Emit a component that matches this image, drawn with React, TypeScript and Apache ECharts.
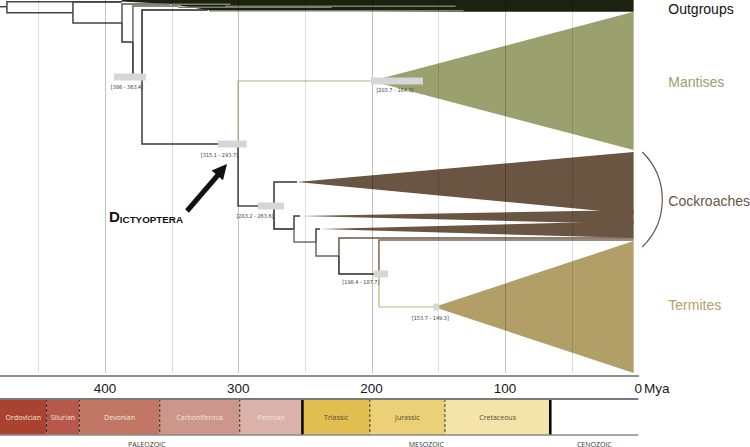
import React, { useEffect, useRef } from 'react';
import * as echarts from 'echarts';

// ---------------- data ----------------
const AXIS_MAX_AGE = 478.7; // Mya at the left edge of the plot
const TIP_AGE = 3.5; // where the collapsed clades end
const ROOT_STEM_AGE = 478.7;
const gridAges = [450, 400, 350, 300, 250, 200, 150, 100, 50];

// tree nodes (age in Mya, vertical lane, parent index)
const nodeNames = ['root', 'og1', 'n1', 'og2', 'n2', 'og3', 'n3', 'og4', 'n4', 'og5', 'Dictyoptera', 'Mantodea', 'Blattodea', 'cock1', 'b2', 'cock2', 'b3', 'cock3', 'b4', 'cock4', 'b5', 'Cryptocercus', 'Termitoidae'];
const nodeAges = [473.5, 387.5, 424, 387.5, 387.2, 351, 379, 345, 372.2, 323, 300.2, 200, 273.2, 256, 258.2, 253.7, 241.7, 238.7, 224.5, 3.5, 194.5, 3.5, 153.2];
const nodeLanes = [6.7, 1.7, 12.7, 2, 23, 4, 42, 6, 77, 10, 144, 81, 206, 182, 229, 216, 242, 229, 256, 238, 274, 240, 307];
const nodeParents = [-1, 0, 0, 2, 2, 4, 4, 6, 6, 8, 8, 10, 10, 12, 12, 14, 14, 16, 16, 18, 18, 20, 20];

// outgroup band outline and lines
const outgroupBandAges = [387.5, 3.5, 3.5, 131, 323, 351, 387.5];
const outgroupBandLanes = [0, 0, 11.7, 11.7, 10, 4, 1.5];
const outgroupLineLanes = [4.2, 7.2, 6.2, 10.8];
const outgroupLineFrom = [350, 345, 310, 322];
const outgroupLineTo = [306, 230, 137, 131];

// collapsed clades
const cladeNames = ['Mantises', 'Cockroaches A', 'Cockroaches B', 'Cockroaches C', 'Termites'];
const cladeApexNodes = [11, 13, 15, 17, 22];
const cladeTopLanes = [11.7, 152, 210, 221, 241];
const cladeBottomLanes = [150, 214, 224, 238, 373];

const groupLabels = ['Outgroups', 'Mantises', 'Cockroaches', 'Termites'];
const groupLabelLanes = [9, 82, 201, 305];
const bracketLanes = [152, 247];

// node age confidence intervals
const ciNodes = [8, 10, 11, 12, 20, 22];
const ciOld = [393.2, 315.1, 200.5, 285.2, 198.4, 153.7];
const ciYoung = [369.2, 293.7, 161.5, 265.7, 187.7, 149.3];
const ciLabels = ['[386 - 363.4]', '[315.1 - 293.7]', '[203.7 - 164.3]', '[283.2 - 263.6]', '[198.4 - 187.7]', '[153.7 - 149.3]'];

// geological time scale
const periodNames = ['Ordovician', 'Silurian', 'Devonian', 'Carboniferous', 'Permian', 'Triassic', 'Jurassic', 'Cretaceous', ''];
const periodStart = [485.4, 443.8, 419.2, 358.9, 298.9, 251.9, 201.3, 145, 66];
const periodEnd = [443.8, 419.2, 358.9, 298.9, 251.9, 201.3, 145, 66, 0];
const eraNames = ['PALEOZOIC', 'MESOZOIC', 'CENOZOIC'];
const eraStart = [485.4, 251.9, 66];
const eraEnd = [251.9, 66, 0];

// ---------------- styles ----------------
const FONT = '"Liberation Sans", Arial, sans-serif';
const NARROW = '"Liberation Sans Narrow", "DejaVu Sans Condensed", "Liberation Sans", sans-serif';
const OUTGROUP_COLOR = '#1b2210';
const edgeColors = ['#444', '#444', '#444', '#444', '#444', '#555', '#333', '#666', '#222', '#222', '#3a3a3a', '#b0b288', '#4a4a4a', '#3d3229', '#222', '#4a3b2e', '#6f6f6f', '#4a3b2e', '#666', '#6a5646', '#2a2a2a', '#7a6452', '#c9b27c'];
const edgeWidths = [1.5, 1.5, 1.5, 1.5, 1.5, 1.5, 1.5, 1.5, 1.5, 1.5, 1.5, 1, 1.5, 1.5, 1.5, 1.5, 1.5, 1.5, 1.5, 1.5, 1.5, 1.5, 1.2];
const cladeColors = ['#9ba16e', '#6a5442', '#6a5442', '#6a5442', '#b29f68'];
const groupLabelColors = ['#111', '#9ba16e', '#6a5442', '#b29f68'];
const ciLabelDx = [-3, -13, -2, -16, -20, -6];
const ciLabelDy = [10, 11, 9, 10, 8, 11];
const periodColors = ['#a9432f', '#b6584a', '#c27664', '#cd968a', '#dbb2aa', '#e2bd50', '#ebd078', '#f4e4aa', '#ffffff'];
const periodTextColors = ['#f7e3dc', '#f7e3dc', '#f7e3dc', '#f7e3dc', '#f7e3dc', '#5a4828', '#5a4828', '#5a4828', '#5a4828'];

function buildOption(): any {
  return {
    animation: false,
    textStyle: { fontFamily: FONT },
    grid: [
      { left: 0, top: 0, width: 638.3, height: 376 },
      { left: 0, top: 399, width: 638.3, height: 36 },
    ],
    xAxis: [
      {
        type: 'value', gridIndex: 0, min: 0, max: AXIS_MAX_AGE, inverse: true, interval: 100,
        axisLine: { show: true, onZero: false, lineStyle: { color: '#8f8f8f', width: 2 } },
        axisTick: { show: false },
        splitLine: { show: false },
        axisLabel: {
          fontSize: 13.5, color: '#1a1a1a', margin: 5, fontFamily: FONT, showMaxLabel: false,
          formatter: (v: number) => (v % 100 === 0 ? String(v) : ''),
        },
      },
      { type: 'value', gridIndex: 1, min: 0, max: AXIS_MAX_AGE, inverse: true, show: false },
    ],
    yAxis: [
      { type: 'value', gridIndex: 0, min: 0, max: 376, inverse: true, show: false },
      { type: 'value', gridIndex: 1, min: 0, max: 1, show: false },
    ],
    series: [
      // outgroup dark band
      {
        type: 'custom', xAxisIndex: 0, yAxisIndex: 0, z: 1, silent: true,
        data: [[outgroupBandAges[0], outgroupBandLanes[0]]],
        renderItem: (_p: any, api: any) => ({
          type: 'polygon',
          shape: { points: outgroupBandAges.map((a, k) => api.coord([a, outgroupBandLanes[k]])) },
          style: { fill: OUTGROUP_COLOR },
        }),
      },
      // collapsed clades
      {
        type: 'custom', xAxisIndex: 0, yAxisIndex: 0, z: 2, silent: true,
        data: cladeApexNodes.map((n) => [nodeAges[n], nodeLanes[n]]),
        renderItem: (p: any, api: any) => {
          const i = p.dataIndex;
          const n = cladeApexNodes[i];
          return {
            type: 'polygon',
            shape: {
              points: [
                api.coord([nodeAges[n], nodeLanes[n]]),
                api.coord([TIP_AGE, cladeTopLanes[i]]),
                api.coord([TIP_AGE, cladeBottomLanes[i]]),
              ],
            },
            style: { fill: cladeColors[i] },
          };
        },
      },
      // tree edges
      {
        type: 'custom', xAxisIndex: 0, yAxisIndex: 0, z: 3, silent: true,
        data: nodeAges.map((a, i) => [a, nodeLanes[i]]),
        renderItem: (p: any, api: any) => {
          const i = p.dataIndex;
          const par = nodeParents[i];
          const pAge = par >= 0 ? nodeAges[par] : ROOT_STEM_AGE;
          const pLane = par >= 0 ? nodeLanes[par] : nodeLanes[i];
          const a = api.coord([pAge, pLane]);
          const b = api.coord([pAge, nodeLanes[i]]);
          const c = api.coord([nodeAges[i], nodeLanes[i]]);
          return {
            type: 'polyline',
            shape: { points: [a, b, c] },
            style: { stroke: edgeColors[i], lineWidth: edgeWidths[i], fill: null },
          };
        },
      },
      // outgroup grey lines
      {
        type: 'custom', xAxisIndex: 0, yAxisIndex: 0, z: 3, silent: true,
        data: outgroupLineLanes.map((l, k) => [outgroupLineFrom[k], l]),
        renderItem: (p: any, api: any) => {
          const k = p.dataIndex;
          const a = api.coord([outgroupLineFrom[k], outgroupLineLanes[k]]);
          const b = api.coord([outgroupLineTo[k], outgroupLineLanes[k]]);
          return { type: 'line', shape: { x1: a[0], y1: a[1], x2: b[0], y2: b[1] }, style: { stroke: '#7b7f6e', lineWidth: 1.5 } };
        },
      },
      // grid lines
      {
        type: 'custom', xAxisIndex: 0, yAxisIndex: 0, z: 4, silent: true,
        data: gridAges.map((a) => [a, 0]),
        renderItem: (p: any, api: any) => {
          const a = gridAges[p.dataIndex];
          const p0 = api.coord([a, 0]);
          const p1 = api.coord([a, 373]);
          const x = Math.round(p0[0]) + 0.5;
          return {
            type: 'line',
            shape: { x1: x, y1: p0[1], x2: x, y2: p1[1] },
            style: { stroke: a % 100 === 0 ? 'rgba(0,0,0,0.24)' : 'rgba(0,0,0,0.13)', lineWidth: 1 },
          };
        },
      },
      // confidence interval bars
      {
        type: 'custom', xAxisIndex: 0, yAxisIndex: 0, z: 5, silent: true,
        data: ciNodes.map((n, k) => [(ciOld[k] + ciYoung[k]) / 2, nodeLanes[n]]),
        renderItem: (p: any, api: any) => {
          const k = p.dataIndex;
          const lane = nodeLanes[ciNodes[k]];
          const a = api.coord([ciOld[k], lane]);
          const b = api.coord([ciYoung[k], lane]);
          const cx = (a[0] + b[0]) / 2;
          return {
            type: 'group',
            children: [
              { type: 'rect', shape: { x: a[0], y: a[1] - 3.5, width: b[0] - a[0], height: 7 }, style: { fill: '#d6d6d6' } },
              {
                type: 'text',
                style: {
                  text: ciLabels[k], x: cx + ciLabelDx[k], y: a[1] + ciLabelDy[k],
                  align: 'center', verticalAlign: 'middle', fontSize: 5.5, fontFamily: NARROW, fill: '#3a3a3a',
                },
              },
            ],
          };
        },
      },
      // group labels
      {
        type: 'custom', xAxisIndex: 0, yAxisIndex: 0, z: 5, silent: true,
        data: groupLabels.map((_g, k) => [0, groupLabelLanes[k]]),
        renderItem: (p: any, api: any) => {
          const k = p.dataIndex;
          const pt = api.coord([0, groupLabelLanes[k]]);
          return {
            type: 'text',
            style: {
              text: groupLabels[k], x: pt[0] + 30, y: pt[1], align: 'left', verticalAlign: 'middle',
              fontSize: 14, fontFamily: FONT, fill: groupLabelColors[k],
            },
          };
        },
      },
      // cockroach bracket
      {
        type: 'custom', xAxisIndex: 0, yAxisIndex: 0, z: 5, silent: true,
        data: [[0, bracketLanes[0]]],
        renderItem: (_p: any, api: any) => {
          const t = api.coord([0, bracketLanes[0]]);
          const b = api.coord([0, bracketLanes[1]]);
          const x0 = t[0] + 4;
          const s = 20;
          const c = b[1] - t[1];
          const r = (c * c / 4 + s * s) / (2 * s);
          const ha = Math.asin(c / 2 / r);
          return {
            type: 'arc',
            shape: { cx: x0 + s - r, cy: (t[1] + b[1]) / 2, r, startAngle: -ha, endAngle: ha, clockwise: true },
            style: { stroke: '#6a5442', lineWidth: 1.2, fill: null },
          };
        },
      },
      // geological periods
      {
        type: 'custom', xAxisIndex: 1, yAxisIndex: 1, z: 2, silent: true, clip: true,
        data: periodNames.map((_n, k) => [periodStart[k], 0]),
        renderItem: (p: any, api: any) => {
          const k = p.dataIndex;
          const a = api.coord([periodStart[k], 1]);
          const b = api.coord([periodEnd[k], 0]);
          const left = Math.max(a[0], p.coordSys.x);
          const children: any[] = [
            { type: 'rect', shape: { x: a[0], y: a[1], width: b[0] - a[0], height: b[1] - a[1] }, style: { fill: periodColors[k] } },
          ];
          if (periodNames[k]) {
            children.push({
              type: 'text',
              style: {
                text: periodNames[k], x: (left + b[0]) / 2, y: (a[1] + b[1]) / 2, align: 'center', verticalAlign: 'middle',
                fontSize: 7, fontFamily: '"Open Sans", sans-serif', fill: periodTextColors[k],
              },
            });
          }
          if (k > 0) {
            const eraBoundary = eraStart.indexOf(periodStart[k]) >= 0;
            children.push({
              type: 'line',
              shape: { x1: a[0], y1: a[1], x2: a[0], y2: b[1] },
              style: eraBoundary ? { stroke: '#000', lineWidth: 2.5 } : { stroke: '#222', lineWidth: 0.9, lineDash: [3, 2] },
              z2: 5,
            });
          }
          return { type: 'group', children };
        },
      },
      // time scale borders
      {
        type: 'custom', xAxisIndex: 1, yAxisIndex: 1, z: 3, silent: true,
        data: [[0, 0]],
        renderItem: (_p: any, api: any) => {
          const tl = api.coord([AXIS_MAX_AGE, 1]);
          const tr = api.coord([0, 1]);
          const bl = api.coord([AXIS_MAX_AGE, 0]);
          const br = api.coord([0, 0]);
          return {
            type: 'group',
            children: [
              { type: 'line', shape: { x1: tl[0], y1: tl[1], x2: tr[0], y2: tr[1] }, style: { stroke: '#7a7a7a', lineWidth: 2 } },
              { type: 'line', shape: { x1: bl[0], y1: bl[1], x2: br[0], y2: br[1] }, style: { stroke: '#8a8a8a', lineWidth: 1.5 } },
            ],
          };
        },
      },
      // era labels
      {
        type: 'custom', xAxisIndex: 1, yAxisIndex: 1, z: 3, silent: true,
        data: eraNames.map((_n, k) => [(eraStart[k] + eraEnd[k]) / 2, 0]),
        renderItem: (p: any, api: any) => {
          const k = p.dataIndex;
          const pt = api.coord([(eraStart[k] + eraEnd[k]) / 2, 0]);
          return {
            type: 'text',
            style: {
              text: eraNames[k], x: pt[0], y: pt[1] + 9, align: 'center', verticalAlign: 'middle',
              fontSize: 7, fontFamily: '"Open Sans", sans-serif', fill: '#333',
            },
          };
        },
      },
    ],
    graphic: [
      {
        type: 'text', x: 644, y: 388, z: 10,
        style: { text: 'Mya', fontSize: 13.5, fontFamily: FONT, fill: '#1a1a1a', align: 'left', verticalAlign: 'middle' },
      },
      {
        type: 'text', x: 109, y: 224, z: 10,
        style: {
          text: '{a|D}{b|ICTYOPTERA}', align: 'left', verticalAlign: 'bottom', fill: '#111',
          rich: {
            a: { fontSize: 15, fontWeight: 'bold', fontFamily: FONT, fill: '#111', verticalAlign: 'bottom' },
            b: { fontSize: 9.8, fontWeight: 'bold', fontFamily: FONT, fill: '#111', verticalAlign: 'bottom' },
          },
        },
      },
      {
        type: 'line', z: 10,
        shape: { x1: 187, y1: 211, x2: 218, y2: 175 },
        style: { stroke: '#111', lineWidth: 5 },
      },
      {
        type: 'polygon', z: 10,
        shape: { points: [[227, 164], [223, 180.3], [211.6, 170.5]] },
        style: { fill: '#111' },
      },
    ],
  };
}

export default function App() {
  const ref = useRef<HTMLDivElement>(null);
  useEffect(() => {
    if (!ref.current) return;
    const chart = echarts.init(ref.current, null, { renderer: 'svg' });
    chart.setOption(buildOption());
    return () => chart.dispose();
  }, []);
  return <div ref={ref} style={{ position: 'absolute', left: 0, top: 0, width: 750, height: 447, background: '#fff' }} />;
}
